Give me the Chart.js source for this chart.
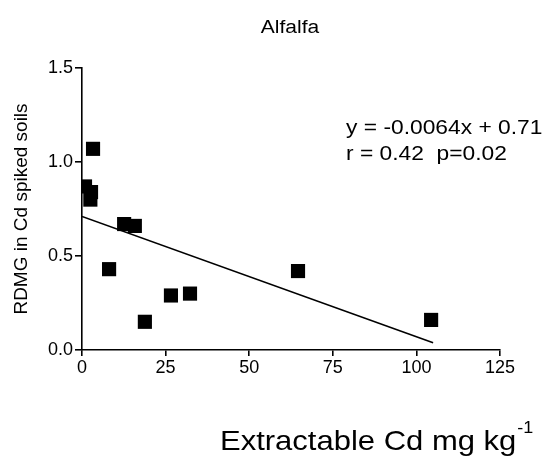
<!DOCTYPE html>
<html>
<head>
<meta charset="utf-8">
<script src="https://cdn.jsdelivr.net/npm/chart.js@4/dist/chart.umd.min.js"></script>
<style>
  html, body { margin: 0; padding: 0; background: #fff; }
  #wrap { width: 550px; height: 462px; }
</style>
</head>
<body>
<div id="wrap"><canvas id="cdChart" width="550" height="462"></canvas></div>
<script>
// extractable Cd (mg/kg) vs relative dry matter growth
const cdValues = [0.9, 3.3, 2.7, 2.5, 8.1, 12.6, 15.8, 18.8, 26.6, 32.3, 64.6, 104.4];
const rdmgValues = [0.87, 1.07, 0.84, 0.80, 0.43, 0.67, 0.66, 0.15, 0.29, 0.30, 0.42, 0.16];
const xTicks = [0, 25, 50, 75, 100, 125];
const yTicks = [0.0, 0.5, 1.0, 1.5];
const slope = -0.0064;
const intercept = 0.71;
const fitRange = [0, 105];

const font = "'Liberation Sans', Arial, sans-serif";

const points = cdValues.map((x, i) => ({ x: x, y: rdmgValues[i] }));
const fitLine = fitRange.map(x => ({ x: x, y: intercept + slope * x }));

// text squashed a little vertically, like the old figure lettering
function squashText(ctx, text, x, y, sy) {
  ctx.save();
  ctx.translate(x, y);
  ctx.scale(1, sy);
  ctx.fillText(text, 0, 0);
  ctx.restore();
}

// title, equation and x label (with superscript) drawn straight on the canvas
const textPlugin = {
  id: 'textPlugin',
  afterDraw(chart) {
    const ctx = chart.ctx;
    ctx.save();
    ctx.fillStyle = '#000';
    ctx.textBaseline = 'alphabetic';

    ctx.font = '21px ' + font;
    ctx.textAlign = 'center';
    squashText(ctx, 'Alfalfa', 290, 33, 0.88);

    ctx.font = '22.8px ' + font;
    ctx.textAlign = 'left';
    squashText(ctx, 'y = -0.0064x + 0.71', 346, 134, 0.9);
    squashText(ctx, 'r = 0.42  p=0.02', 346, 160, 0.9);

    ctx.font = '31px ' + font;
    const main = 'Extractable Cd mg kg';
    squashText(ctx, main, 220, 450, 0.9);
    const w = ctx.measureText(main).width;
    ctx.font = '18px ' + font;
    squashText(ctx, '-1', 220 + w + 1, 433, 0.92);
    ctx.restore();
  }
};

new Chart(document.getElementById('cdChart'), {
  type: 'scatter',
  data: {
    datasets: [
      {
        data: points,
        pointStyle: 'rect',
        pointRadius: 10,
        backgroundColor: '#000',
        borderColor: '#000',
        borderWidth: 0
      },
      {
        type: 'line',
        data: fitLine,
        borderColor: '#000',
        borderWidth: 1.6,
        pointRadius: 0,
        fill: false
      }
    ]
  },
  options: {
    responsive: false,
    animation: false,
    layout: { padding: { top: 68, right: 50, left: 0, bottom: 0 } },
    plugins: {
      legend: { display: false },
      tooltip: { enabled: false },
      title: { display: false }
    },
    scales: {
      x: {
        type: 'linear',
        min: 0,
        max: 125,
        afterFit: (scale) => { scale.height = 112; },
        afterBuildTicks: (scale) => { scale.ticks = xTicks.map(v => ({ value: v })); },
        border: { display: true, color: '#000', width: 1.6 },
        grid: { display: true, drawOnChartArea: false, drawTicks: true, tickLength: 6, color: '#000', lineWidth: 1.6 },
        ticks: { color: '#000', font: { family: font, size: 18 }, padding: 1, maxRotation: 0 }
      },
      y: {
        type: 'linear',
        min: 0,
        max: 1.5,
        afterFit: (scale) => { scale.width = 82; },
        afterBuildTicks: (scale) => { scale.ticks = yTicks.map(v => ({ value: v })); },
        border: { display: true, color: '#000', width: 1.6 },
        grid: { display: true, drawOnChartArea: false, drawTicks: true, tickLength: 7, color: '#000', lineWidth: 1.6 },
        ticks: {
          color: '#000',
          font: { family: font, size: 18 },
          padding: 2,
          callback: (v) => Number(v).toFixed(1)
        },
        title: {
          display: true,
          text: 'RDMG in Cd spiked soils',
          color: '#000',
          font: { family: font, size: 19 },
          padding: { top: 10, bottom: 0 }
        }
      }
    }
  },
  plugins: [textPlugin]
});
</script>
</body>
</html>
